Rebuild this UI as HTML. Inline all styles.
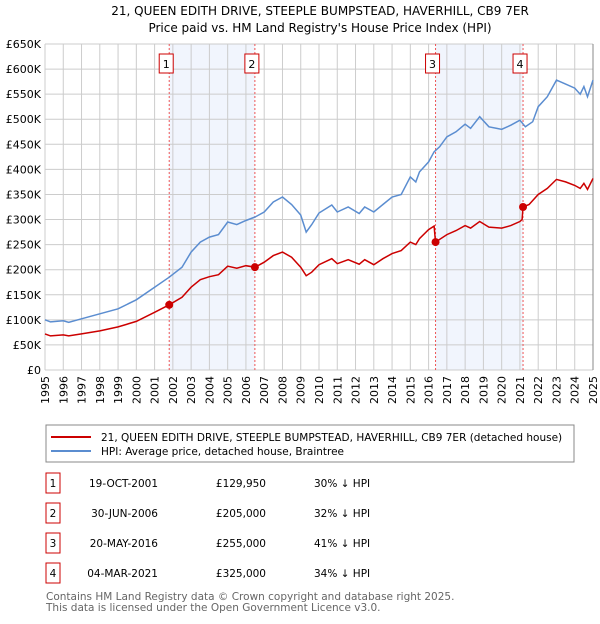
<!DOCTYPE html>
<html><head><meta charset="utf-8"><style>
body{margin:0;background:#fff;font-family:"DejaVu Sans","Liberation Sans",sans-serif;}
svg text{font-family:"DejaVu Sans","Liberation Sans",sans-serif;}
</style></head><body>
<svg id="chart" width="600" height="620" xmlns="http://www.w3.org/2000/svg">
<text x="320" y="15" font-size="12" text-anchor="middle">21, QUEEN EDITH DRIVE, STEEPLE BUMPSTEAD, HAVERHILL, CB9 7ER</text>
<text x="320" y="32" font-size="12" text-anchor="middle">Price paid vs. HM Land Registry's House Price Index (HPI)</text>
<g id="plot"></g>
<rect x="46" y="425" width="528" height="37" fill="none" stroke="#888"/>
<line x1="51" y1="437" x2="91" y2="437" stroke="#cc0000" stroke-width="2"/>
<text x="101" y="441" font-size="10.5">21, QUEEN EDITH DRIVE, STEEPLE BUMPSTEAD, HAVERHILL, CB9 7ER (detached house)</text>
<line x1="51" y1="451" x2="91" y2="451" stroke="#5b8dd0" stroke-width="2"/>
<text x="101" y="455" font-size="10.5">HPI: Average price, detached house, Braintree</text>
<g id="table" font-size="10.5"></g>
<text x="46" y="600" font-size="10.5" fill="#666">Contains HM Land Registry data © Crown copyright and database right 2025.</text>
<text x="46" y="611" font-size="10.5" fill="#666">This data is licensed under the Open Government Licence v3.0.</text>
</svg>
<script>
const hpiT=[1995,1995.3,1996,1996.3,1997,1998,1999,2000,2001,2001.8,2002.5,2003,2003.5,2004,2004.5,2005,2005.5,2006,2006.5,2007,2007.5,2008,2008.5,2009,2009.3,2009.6,2010,2010.7,2011,2011.6,2012.2,2012.5,2013,2013.5,2014,2014.5,2015,2015.3,2015.5,2016,2016.3,2016.6,2017,2017.5,2018,2018.3,2018.8,2019.3,2020,2020.5,2021,2021.3,2021.7,2022,2022.5,2023,2023.5,2024,2024.3,2024.5,2024.7,2025];
const hpiV=[100,96,98,95,102,112,122,140,165,185,205,235,255,265,270,295,290,298,305,315,335,345,330,309,275,290,313,329,315,325,312,325,315,330,345,350,385,375,395,415,435,445,465,475,490,482,505,485,480,488,498,485,495,525,545,578,570,562,550,565,545,578];
const redT=[1995,1995.3,1996,1996.3,1997,1998,1999,2000,2001,2001.8,2002.5,2003,2003.5,2004,2004.5,2005,2005.5,2006,2006.5,2007,2007.5,2008,2008.5,2009,2009.3,2009.6,2010,2010.7,2011,2011.6,2012.2,2012.5,2013,2013.5,2014,2014.5,2015,2015.3,2015.5,2016,2016.3,2016.38,2017,2017.5,2018,2018.3,2018.8,2019.3,2020,2020.5,2021,2021.12,2021.17,2021.5,2022,2022.5,2023,2023.5,2024,2024.3,2024.5,2024.7,2025];
const redV=[72,68,70,68,72,78,86,97,115,130,145,165,180,186,190,207,203,208,205,215,228,235,225,205,188,195,210,222,212,220,211,220,210,222,232,238,255,250,262,280,287,255,270,278,288,283,296,285,283,288,296,300,325,330,350,362,380,375,368,362,372,360,382];
const saleT=[2001.8,2006.49,2016.38,2021.17];
const saleV=[129.95,205,255,325];
const saleDates=["19-OCT-2001","30-JUN-2006","20-MAY-2016","04-MAR-2021"];
const salePrices=["£129,950","£205,000","£255,000","£325,000"];
const saleDiffs=["30% ↓ HPI","32% ↓ HPI","41% ↓ HPI","34% ↓ HPI"];
const yTicks=[0,50,100,150,200,250,300,350,400,450,500,550,600,650];
const yLabels=["£0","£50K","£100K","£150K","£200K","£250K","£300K","£350K","£400K","£450K","£500K","£550K","£600K","£650K"];
const xTicks=[1995,1996,1997,1998,1999,2000,2001,2002,2003,2004,2005,2006,2007,2008,2009,2010,2011,2012,2013,2014,2015,2016,2017,2018,2019,2020,2021,2022,2023,2024,2025];
const X0=45,X1=593,Y0=370,Y1=44;
const sx=t=>X0+(t-1995)/30*(X1-X0);
const sy=v=>Y0-v/650*(Y0-Y1);
const NS="http://www.w3.org/2000/svg";
const plot=document.getElementById('plot');
function mk(tag,attrs,parent){const e=document.createElementNS(NS,tag);for(const k in attrs)e.setAttribute(k,attrs[k]);(parent||plot).appendChild(e);return e;}
[[0,1],[2,3]].forEach((p,i)=>{const r=mk('rect',{x:sx(saleT[p[0]]),y:Y1,width:sx(saleT[p[1]])-sx(saleT[p[0]]),height:Y0-Y1,fill:'#eef3fc',opacity:0.8});

});
yTicks.forEach((v,i)=>{const l=mk('line',{x1:X0,x2:X1,y1:sy(v),y2:sy(v),stroke:'#ccc'});


const t=mk('text',{x:X0-4,y:sy(v)+4,'font-size':11,'text-anchor':'end'});t.textContent=yLabels[i];

});
xTicks.forEach(y=>{const l=mk('line',{x1:sx(y),x2:sx(y),y1:Y1,y2:Y0,stroke:'#ccc'});


const t=mk('text',{x:0,y:0,'font-size':11,'text-anchor':'end',transform:`translate(${sx(y)+4},${Y0+6}) rotate(-90)`});t.textContent=y;

});
mk('line',{x1:X1,x2:X1,y1:Y1,y2:Y0,stroke:'#888'});
saleT.forEach((t,i)=>{const l=mk('line',{x1:sx(t),x2:sx(t),y1:Y1,y2:Y0,stroke:'#e55','stroke-dasharray':'2,2'});


const b=mk('rect',{x:sx(t)-10,y:54,width:14,height:19,fill:'#fff',stroke:'#c00'});


const tx=mk('text',{x:sx(t)-3,y:68,'font-size':11,'text-anchor':'middle'});tx.textContent=i+1;

});
const pts=(T,V)=>T.map((t,i)=>sx(t).toFixed(1)+','+sy(V[i]).toFixed(1)).join(' ');
const hl=mk('polyline',{points:pts(hpiT,hpiV),fill:'none',stroke:'#5b8dd0','stroke-width':1.5});


const rl=mk('polyline',{points:pts(redT,redV),fill:'none',stroke:'#cc0000','stroke-width':1.5});


saleT.forEach((t,i)=>{const c=mk('circle',{cx:sx(t),cy:sy(saleV[i]),r:4,fill:'#cc0000'});

});
const tb=document.getElementById('table');
saleDates.forEach((d,i)=>{const y=483+i*30;
const r=mk('rect',{x:46,y:y-10,width:14,height:20,fill:'#fff',stroke:'#c00'},tb);


const a=mk('text',{x:53,y:y+4,'text-anchor':'middle'},tb);a.textContent=i+1;


const b=mk('text',{x:158,y:y+4,'text-anchor':'end'},tb);b.textContent=d;


const c=mk('text',{x:266,y:y+4,'text-anchor':'end'},tb);c.textContent=salePrices[i];


const e=mk('text',{x:314,y:y+4},tb);e.textContent=saleDiffs[i];

});
</script>
</body></html>
